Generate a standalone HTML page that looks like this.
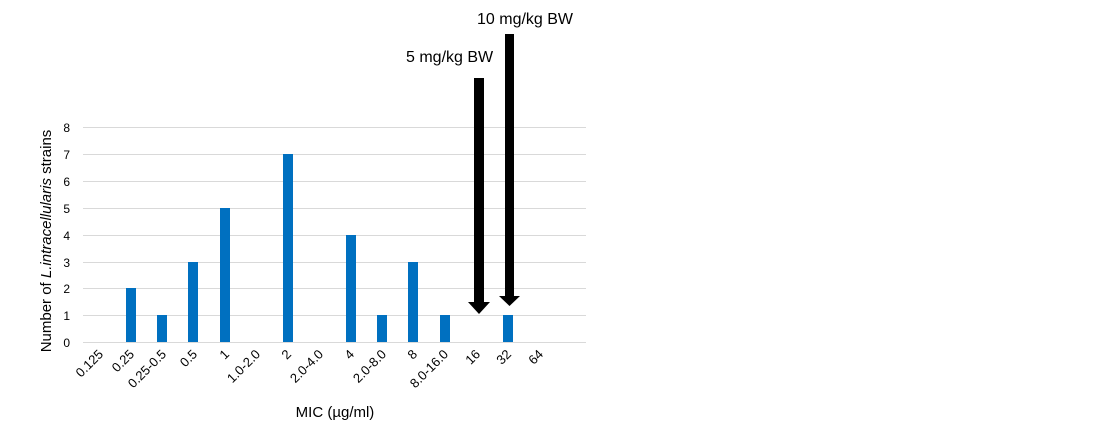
<!DOCTYPE html>
<html><head><style>body{margin:0;background:#fff}</style></head><body>
<svg width="1100" height="433" xmlns="http://www.w3.org/2000/svg" font-family="Liberation Sans, sans-serif" fill="#000">
<g stroke="#d9d9d9" stroke-width="1">
<line x1="83" x2="586" y1="127.5" y2="127.5"/><line x1="83" x2="586" y1="154.5" y2="154.5"/>
<line x1="83" x2="586" y1="181.5" y2="181.5"/><line x1="83" x2="586" y1="208.5" y2="208.5"/>
<line x1="83" x2="586" y1="235.5" y2="235.5"/><line x1="83" x2="586" y1="262.5" y2="262.5"/>
<line x1="83" x2="586" y1="288.5" y2="288.5"/><line x1="83" x2="586" y1="315.5" y2="315.5"/>
<line x1="83" x2="586" y1="342.5" y2="342.5"/>
</g>
<g font-size="12" text-anchor="end">
<text x="70" y="132">8</text><text x="70" y="159">7</text><text x="70" y="186">6</text><text x="70" y="213">5</text>
<text x="70" y="240">4</text><text x="70" y="267">3</text><text x="70" y="293">2</text><text x="70" y="320">1</text><text x="70" y="347">0</text>
</g>
<g fill="#0070c0">
<rect x="126" y="288" width="10" height="54"/>
<rect x="157" y="315" width="10" height="27"/>
<rect x="188" y="262" width="10" height="80"/>
<rect x="220" y="208" width="10" height="134"/>
<rect x="283" y="154" width="10" height="188"/>
<rect x="346" y="235" width="10" height="107"/>
<rect x="377" y="315" width="10" height="27"/>
<rect x="408" y="262" width="10" height="80"/>
<rect x="440" y="315" width="10" height="27"/>
<rect x="503" y="315" width="10" height="27"/>
</g>
<g font-size="13" text-anchor="end">
<text transform="translate(104,355) rotate(-45)">0.125</text>
<text transform="translate(135,355) rotate(-45)">0.25</text>
<text transform="translate(167,355) rotate(-45)">0.25-0.5</text>
<text transform="translate(198,355) rotate(-45)">0.5</text>
<text transform="translate(230,355) rotate(-45)">1</text>
<text transform="translate(261,355) rotate(-45)">1.0-2.0</text>
<text transform="translate(292,355) rotate(-45)">2</text>
<text transform="translate(324,355) rotate(-45)">2.0-4.0</text>
<text transform="translate(355,355) rotate(-45)">4</text>
<text transform="translate(387,355) rotate(-45)">2.0-8.0</text>
<text transform="translate(418,355) rotate(-45)">8</text>
<text transform="translate(449,355) rotate(-45)">8.0-16.0</text>
<text transform="translate(481,355) rotate(-45)">16</text>
<text transform="translate(512,355) rotate(-45)">32</text>
<text transform="translate(544,355) rotate(-45)">64</text>
</g>
<text x="335" y="417" font-size="15" text-anchor="middle">MIC (µg/ml)</text>
<text transform="translate(51,241) rotate(-90)" font-size="15" text-anchor="middle">Number of <tspan font-style="italic">L.intracellularis</tspan> strains</text>
<rect x="474" y="78" width="10" height="225"/>
<polygon points="468,302 490,302 479,314"/>
<rect x="505" y="34" width="9" height="264"/>
<polygon points="499,296 520,296 509.5,306"/>
<text x="406" y="62" font-size="16">5 mg/kg BW</text>
<text x="477" y="24" font-size="16">10 mg/kg BW</text>
</svg>
</body></html>
